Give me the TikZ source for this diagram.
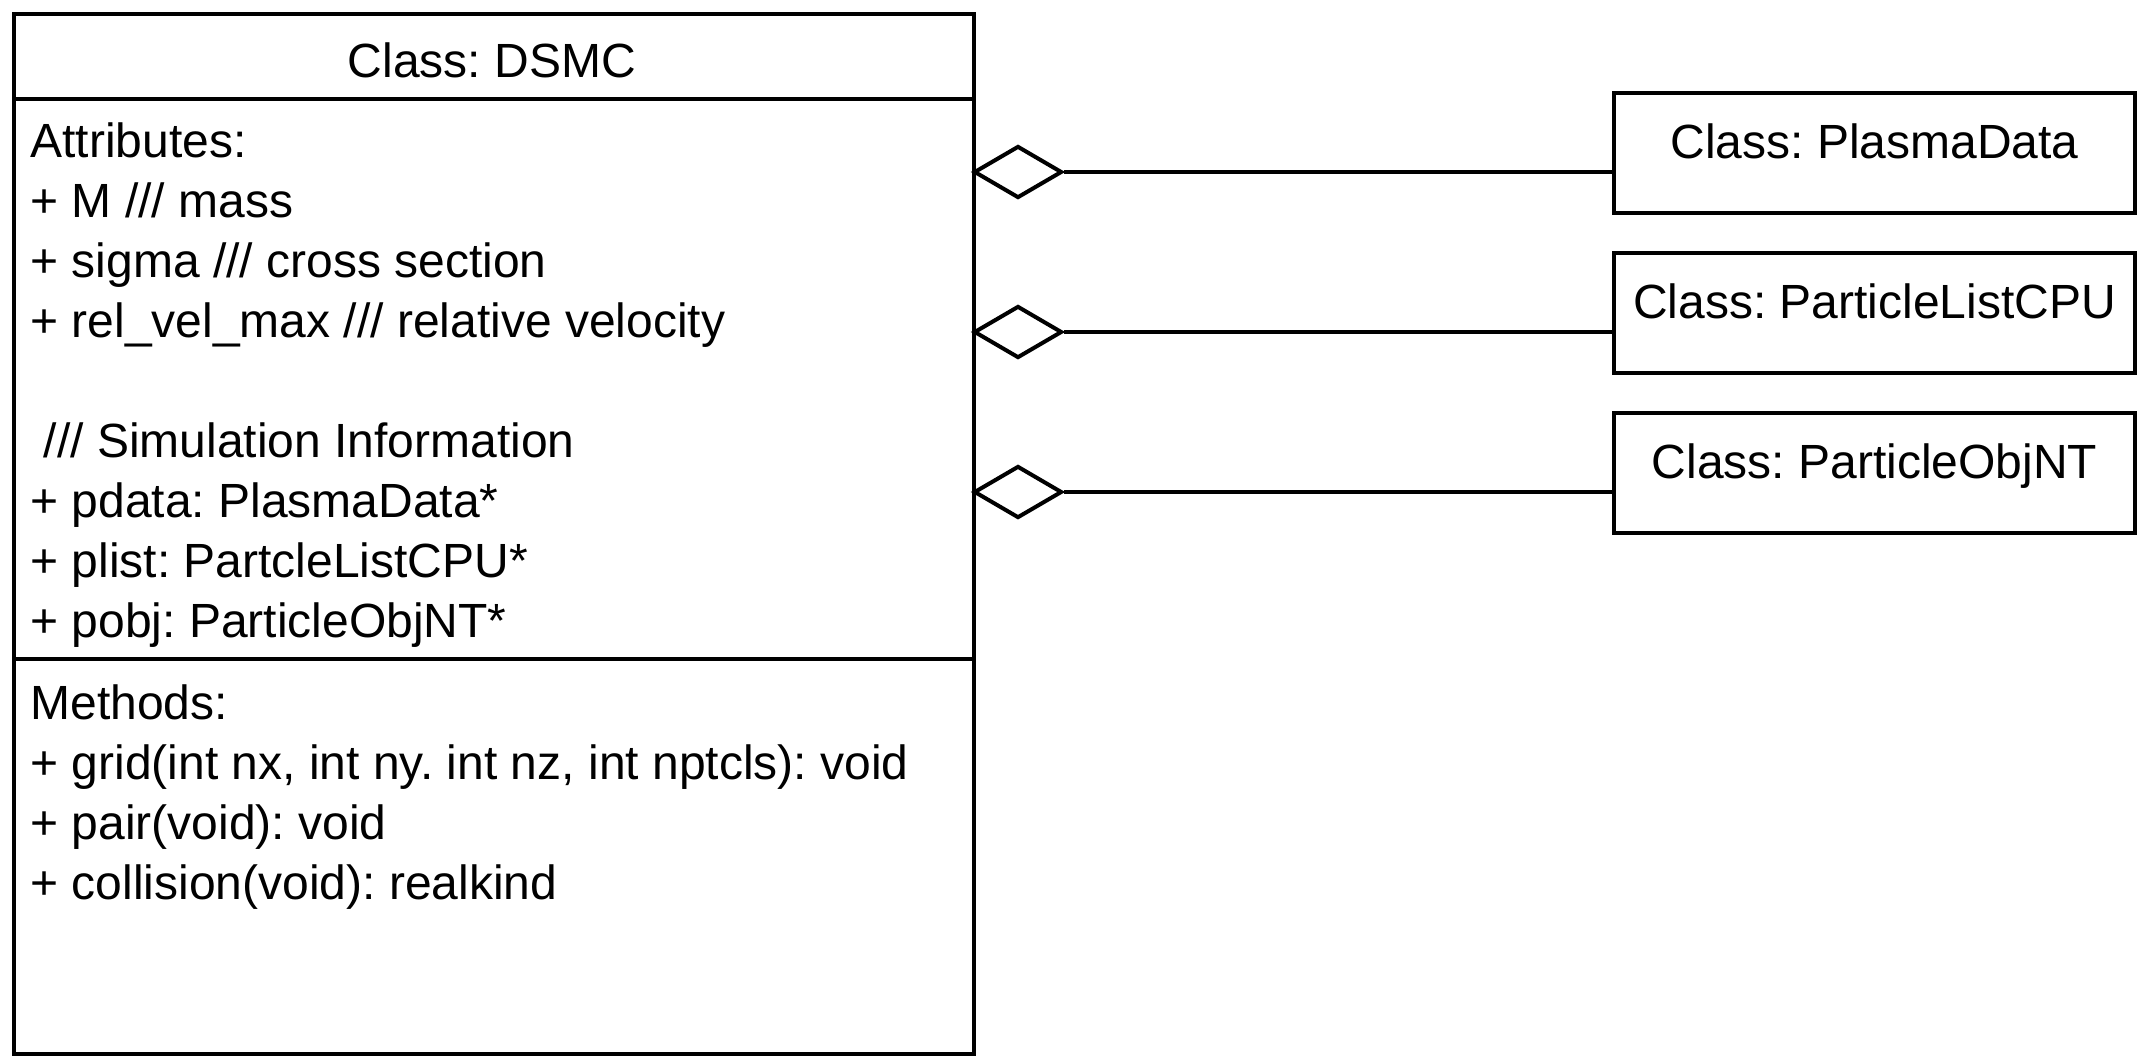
\documentclass[tikz,border=0pt]{standalone}
\usepackage{fontspec}
\setmainfont{Liberation Sans}
\usetikzlibrary{shapes.geometric}
\begin{document}
\frenchspacing
\begin{tikzpicture}[x=0.5pt,y=-0.5pt,
  boxline/.style={draw=black,line width=2pt},
  cbox/.style={boxline,rectangle,inner sep=0pt,minimum width=260.5pt,minimum height=60pt},
  txt/.style={anchor=base west,inner sep=0pt,font=\fontsize{24}{30}\selectfont},
  ctxt/.style={anchor=base,inner sep=0pt,font=\fontsize{24}{30}\selectfont},
  aggdia/.style={diamond,draw=black,fill=white,line width=2pt,inner sep=0pt,minimum width=44pt,minimum height=26pt,anchor=west},
  link/.style={line width=2pt}
]
\useasboundingbox (0,0) rectangle (2140,1060);
% main class box
\node[boxline,rectangle,inner sep=0pt,minimum width=480pt,minimum height=520pt,anchor=north west] (dsmc) at (12,12) {};
\coordinate (s1) at (12,99);
\coordinate (s2) at (12,659);
\draw[line width=2pt] (s1) -- (s1 -| dsmc.east);
\draw[line width=2pt] (s2) -- (s2 -| dsmc.east);
\node[ctxt] (title) at (492,77) {Class: DSMC};
\node[txt] (a0) at (30,157) {Attributes:};
\node[txt] (a1) at (30,217) {+ M /// mass};
\node[txt] (a2) at (30,277) {+ sigma /// cross section};
\node[txt] (a3) at (30,337) {+ rel\_vel\_max /// relative velocity};
\node[txt] (a4) at (30,457) {\ /// Simulation Information};
\node[txt] (a5) at (30,517) {+ pdata: PlasmaData*};
\node[txt] (a6) at (30,577) {+ plist: PartcleListCPU*};
\node[txt] (a7) at (30,637) {+ pobj: ParticleObjNT*};
\node[txt] (m0) at (30,719) {Methods:};
\node[txt] (m1) at (30,779) {+ grid(int nx, int ny. int nz, int nptcls): void};
\node[txt] (m2) at (30,839) {+ pair(void): void};
\node[txt] (m3) at (30,899) {+ collision(void): realkind};
% right class boxes
\node[cbox,anchor=north west] (pd) at (1612,91) {};
\node[cbox,anchor=north west] (pl) at (1612,251) {};
\node[cbox,anchor=north west] (po) at (1612,411) {};
\node[ctxt] (pdt) at ([yshift=-33.5pt]pd.north) {Class: PlasmaData};
\node[ctxt] (plt) at ([yshift=-33.5pt]pl.north) {Class: ParticleListCPU};
\node[ctxt] (pot) at ([yshift=-33.5pt]po.north) {Class: ParticleObjNT};
% aggregation connectors
\coordinate (c1) at (972,172);
\coordinate (c2) at (972,332);
\coordinate (c3) at (972,492);
\node[aggdia] (g1) at (c1) {};
\node[aggdia] (g2) at (c2) {};
\node[aggdia] (g3) at (c3) {};
\draw[link] (pd.west |- g1.east) -- (g1.east);
\draw[link] (pl.west |- g2.east) -- (g2.east);
\draw[link] (po.west |- g3.east) -- (g3.east);
\end{tikzpicture}
\end{document}
